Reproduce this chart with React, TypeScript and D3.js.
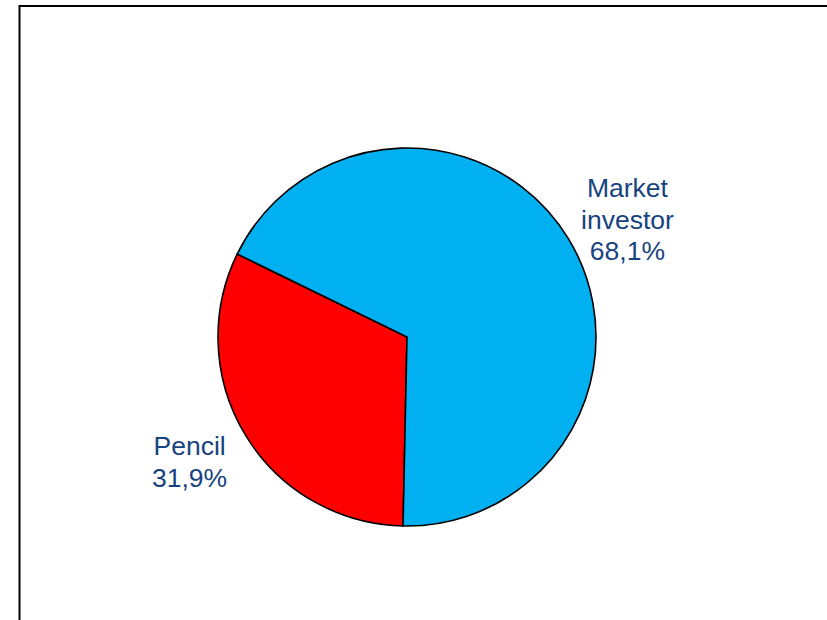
import { useEffect, useRef } from 'react';
import * as d3 from 'd3';

// Shares in percent, in drawing order (clockwise from the bottom)
const categories = ['Pencil', 'Market investor'];
const shares = [31.9, 68.1];
const labelLines = [['Pencil', '31,9%'], ['Market', 'investor', '68,1%']];

const COLORS = ['#FF0000', '#00B0F0'];
const LABEL_COLOR = '#17437F';

export default function App() {
  const svgRef = useRef<SVGSVGElement>(null);

  useEffect(() => {
    if (!svgRef.current) return;
    const width = 827;
    const height = 620;
    const cx = 407;
    const cy = 337;
    const radius = 189;

    const svg = d3.select(svgRef.current);
    svg.selectAll('*').remove();
    svg.attr('width', width).attr('height', height).attr('viewBox', `0 0 ${width} ${height}`);

    // Chart area frame (runs off the right and bottom edges)
    svg
      .append('rect')
      .attr('x', 19.5)
      .attr('y', 6)
      .attr('width', 900)
      .attr('height', 700)
      .attr('fill', '#fff')
      .attr('stroke', '#000')
      .attr('stroke-width', 2);

    const data = categories.map((c, i) => ({ name: c, value: shares[i], lines: labelLines[i] }));

    const pie = d3
      .pie<{ name: string; value: number; lines: string[] }>()
      .value((d) => d.value)
      .sort(null)
      .startAngle((181.2 * Math.PI) / 180)
      .endAngle((541.2 * Math.PI) / 180);

    const arc = d3
      .arc<d3.PieArcDatum<{ name: string; value: number; lines: string[] }>>()
      .innerRadius(0)
      .outerRadius(radius);

    const labelArc = d3
      .arc<d3.PieArcDatum<{ name: string; value: number; lines: string[] }>>()
      .innerRadius(250)
      .outerRadius(250);

    const g = svg.append('g').attr('transform', `translate(${cx},${cy})`);
    const arcs = pie(data);

    g.selectAll('path')
      .data(arcs)
      .enter()
      .append('path')
      .attr('d', arc)
      .attr('fill', (_, i) => COLORS[i])
      .attr('stroke', '#000')
      .attr('stroke-width', 1.6)
      .attr('stroke-linejoin', 'miter');

    // small nudges to mimic the best-fit label placement
    const nudges = [
      [-4, -5],
      [7, 13],
    ];
    const lineHeight = 31.5;

    arcs.forEach((a, i) => {
      const [lx, ly] = labelArc.centroid(a);
      const x = lx + nudges[i][0];
      const y = ly + nudges[i][1];
      const n = a.data.lines.length;
      const text = g
        .append('text')
        .attr('text-anchor', 'middle')
        .attr('font-family', '"Liberation Sans", Arial, sans-serif')
        .attr('font-size', 26.5)
        .attr('fill', LABEL_COLOR);
      a.data.lines.forEach((line, k) => {
        text
          .append('tspan')
          .attr('x', x)
          .attr('y', y + (k - (n - 1) / 2) * lineHeight + 9)
          .text(line);
      });
    });
  }, []);

  return <svg ref={svgRef} style={{ position: 'absolute', left: 0, top: 0, display: 'block' }} />;
}
